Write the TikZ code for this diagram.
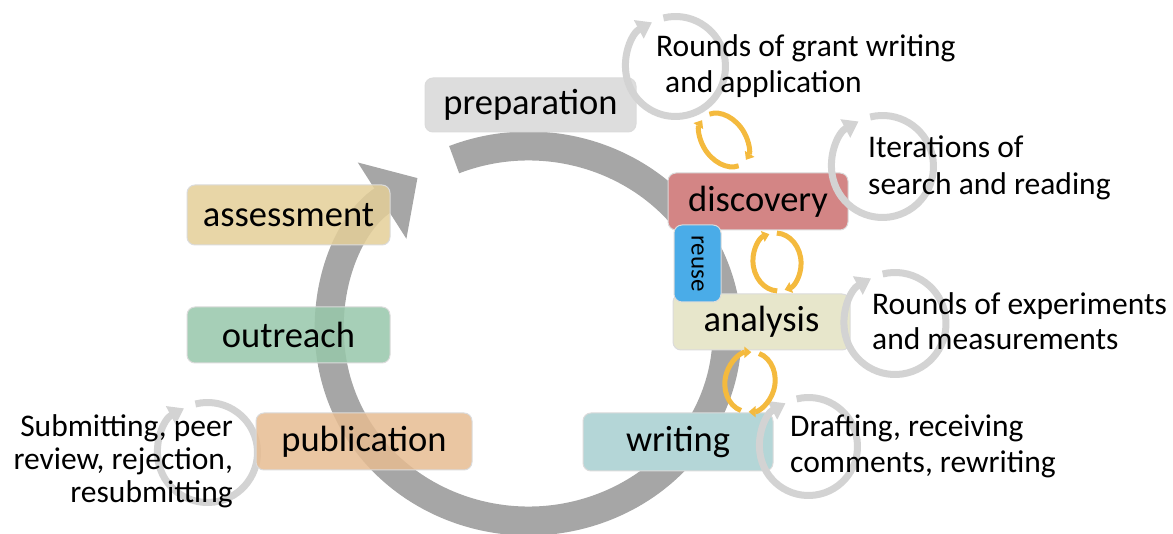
\documentclass[tikz,border=0pt]{standalone}
\usepackage{fontspec}
\setmainfont{Carlito}
\usetikzlibrary{arrows.meta}
\definecolor{arcgrey}{HTML}{A6A6A6}
\definecolor{cycgrey}{HTML}{D3D3D3}
\definecolor{yel}{HTML}{F4BA3E}
\definecolor{cprep}{HTML}{DDDDDD}
\definecolor{cass}{HTML}{E4CF98}
\definecolor{cout}{HTML}{97C7AA}
\definecolor{cpub}{HTML}{E6BC92}
\definecolor{cwri}{HTML}{B4D6D7}
\definecolor{cdis}{HTML}{D38585}
\definecolor{cana}{HTML}{E7E6CB}
\definecolor{creu}{HTML}{4AACE8}
\begin{document}
\begin{tikzpicture}[x=1pt,y=1pt,
  box/.style={rounded corners=8pt, draw=black!14, line width=1pt, inner sep=0pt,
    font=\fontsize{36.5}{40}\selectfont},
  seethru/.style={fill opacity=0.85, text opacity=1},
  bigarc/.style={line width=29pt, draw=arcgrey, -{Triangle[width=88pt,length=42pt]}},
  cyc/.style={line width=7pt, draw=cycgrey, -{Triangle[width=20pt,length=15pt]}},
  yarr/.style={line width=5pt, draw=yel, -{Triangle[width=11pt,length=7pt]}},
  side/.style={inner sep=0pt, font=\fontsize{31.5}{36}\selectfont}]
\useasboundingbox (0,0) rectangle (1173,533);

% big cycle
\coordinate (BC) at (528.5,199.5);
\draw[bigarc] ([shift={(112:198.5 and 187.5)}]BC) arc[start angle=112, end angle=-236, x radius=198.5, y radius=187.5];

% centres of the small grey cycles
\coordinate (G1) at (675.5,466.5);
\coordinate (G2) at (882.5,366.5);
\coordinate (G3) at (895,209.5);
\coordinate (G4) at (808.5,86.5);
\coordinate (G5) at (207.5,80.5);

\draw[cyc] ([shift={(104:50)}]G5) arc[start angle=104, end angle=-242, radius=50];

% stage boxes
\node[box, fill=cprep, minimum width=211pt, minimum height=54pt] (prep) at (530.5,428) {preparation};
\node[box, seethru, fill=cass, minimum width=203pt, minimum height=60pt] (ass) at (288.5,318) {assessment};
\node[box, seethru, fill=cout, minimum width=203pt, minimum height=56pt] (out) at (288.5,198) {outreach\hspace{12pt}};
\node[box, seethru, fill=cpub, minimum width=216pt, minimum height=57pt] (pub) at (364,91.5) {publication};
\node[box, fill=cwri, minimum width=190pt, minimum height=58pt] (wri) at (678,91) {writing};
\node[box, fill=cdis, minimum width=180pt, minimum height=57pt] (dis) at (758,331.5) {discovery};
\node[box, fill=cana, minimum width=177pt, minimum height=56pt] (ana) at (761.5,211) {analysis};

% grey cycles
\draw[cyc] ([shift={(104:50)}]G1) arc[start angle=104, end angle=-242, radius=50];
\draw[cyc] ([shift={(104:51)}]G2) arc[start angle=104, end angle=-242, radius=51];
\draw[cyc] ([shift={(104:51)}]G3) arc[start angle=104, end angle=-242, radius=51];
\draw[cyc] ([shift={(104:49)}]G4) arc[start angle=104, end angle=-242, radius=49];

% yellow exchange arrows
\begin{scope}[shift={(724,393)}, rotate=-52]
  \draw[yarr] (168:30 and 21) arc[start angle=168, end angle=14, x radius=30, y radius=21];
  \draw[yarr] (-12:30 and 21) arc[start angle=-12, end angle=-166, x radius=30, y radius=21];
\end{scope}
\begin{scope}[shift={(777,271)}, rotate=7]
  \draw[yarr] (262:24 and 29) arc[start angle=262, end angle=100, x radius=24, y radius=29];
  \draw[yarr] (82:24 and 29) arc[start angle=82, end angle=-80, x radius=24, y radius=29];
\end{scope}
\begin{scope}[shift={(750,151)}, rotate=-11]
  \draw[yarr] (262:25 and 30) arc[start angle=262, end angle=100, x radius=25, y radius=30];
  \draw[yarr] (82:25 and 30) arc[start angle=82, end angle=-80, x radius=25, y radius=30];
\end{scope}

% reuse tag
\node[box, fill=creu, rotate=-90, minimum width=77pt, minimum height=47pt,
  font=\fontsize{25}{28}\selectfont] (reu) at (697.5,269.5) {reuse};

% side texts
\node[side, anchor=base west] (t1) at (656,476)
  {\begin{tabular}[t]{@{}l@{}}Rounds of grant writing\\\hspace*{9pt}and application\end{tabular}};
\node[side, anchor=base west, font=\fontsize{31.5}{37}\selectfont] (t2) at (868,375)
  {\begin{tabular}[t]{@{}l@{}}Iterations of\\search and reading\end{tabular}};
\node[side, anchor=base west, font=\fontsize{31.5}{35}\selectfont] (t3) at (872,218)
  {\begin{tabular}[t]{@{}l@{}}Rounds of experiments\\and measurements\end{tabular}};
\node[side, anchor=base west] (t4) at (790,96)
  {\begin{tabular}[t]{@{}l@{}}Drafting, receiving\\comments, rewriting\end{tabular}};
\node[side, anchor=base east, font=\fontsize{31.5}{33}\selectfont] (t5) at (233,96)
  {\begin{tabular}[t]{@{}r@{}}Submitting, peer\\review, rejection,\\resubmitting\end{tabular}};
\end{tikzpicture}
\end{document}
